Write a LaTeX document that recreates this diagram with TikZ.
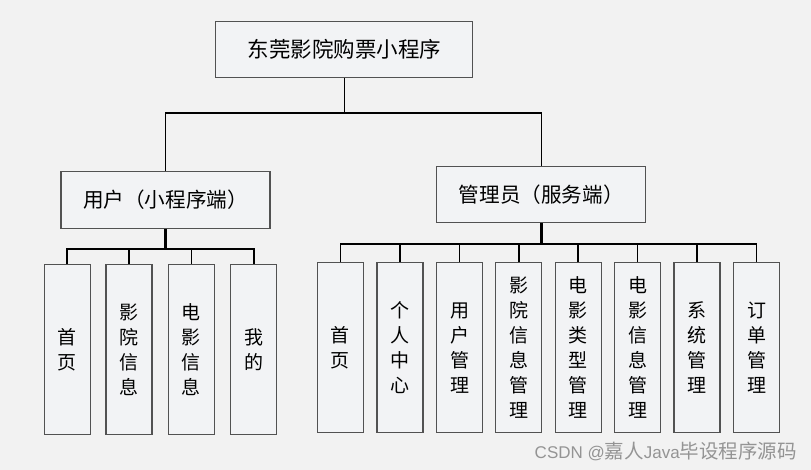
\documentclass[tikz,border=0pt]{standalone}
\usepackage{fontspec}
\setmainfont{Noto Sans CJK SC}
\newfontfamily\cjk{Noto Sans CJK SC}
\newfontfamily\latinsans{Liberation Sans}
\newcommand{\wmlatin}[1]{{\latinsans\fontsize{17}{18}\selectfont #1}}
\begin{document}
\begin{tikzpicture}[x=1pt,y=-1pt,
  boxst/.style={draw=black!68, line width=1.1pt, fill=boxfill, inner sep=0pt, align=center, text=black},
  topbox/.style={boxst, minimum width=257pt, minimum height=56pt, font=\cjk\fontsize{21.5}{24}\selectfont},
  midbox/.style={boxst, minimum width=209pt, minimum height=56.5pt, font=\cjk\fontsize{20.6}{24}\selectfont},
  leafbox/.style={boxst, minimum width=46pt, minimum height=170pt, font=\cjk\fontsize{19}{25}\selectfont},
  conn/.style={draw=black, line width=1.6pt},
  thick conn/.style={draw=black, line width=2.6pt},
  mark text/.style={font=\cjk\fontsize{19.5}{20}\selectfont, text=black!42, inner sep=0pt}]
\definecolor{bgc}{HTML}{F2F2F2}
\definecolor{boxfill}{HTML}{F2F3F5}
\fill[bgc] (0,0) rectangle (811,470);
\useasboundingbox (0,0) rectangle (811,470);

\node[topbox] (root) at (344.3,49.7) {东莞影院购票小程序};
\node[midbox] (user) at (165.5,200) {用户（小程序端）};
\node[midbox] (admin) at (541.3,194.7) {管理员（服务端）};

\coordinate (busT) at (0,113.3);
\coordinate (busL) at (0,249);
\coordinate (busR) at (0,244);

% left leaves
\node[leafbox] (u1) at (67.2,349.7) {首\\页};
\node[leafbox] (u2) at (129,349.7) {影\\院\\信\\息};
\node[leafbox] (u3) at (191.3,349.7) {电\\影\\信\\息};
\node[leafbox] (u4) at (253.8,349.7) {我\\的};

% right leaves
\node[leafbox] (a1) at (340.3,347.7) {首\\页};
\node[leafbox] (a2) at (400,347.7) {个\\人\\中\\心};
\node[leafbox] (a3) at (459.5,347.7) {用\\户\\管\\理};
\node[leafbox] (a4) at (518.8,347.7) {影\\院\\信\\息\\管\\理};
\node[leafbox] (a5) at (578.2,347.7) {电\\影\\类\\型\\管\\理};
\node[leafbox] (a6) at (637.5,347.7) {电\\影\\信\\息\\管\\理};
\node[leafbox] (a7) at (697,347.7) {系\\统\\管\\理};
\node[leafbox] (a8) at (756.5,347.7) {订\\单\\管\\理};

% top connectors
\draw[conn] (root.south) -- (root.south |- busT);
\draw[conn] (user.north) -- (user.north |- busT) -- (admin.north |- busT) -- (admin.north);

% left bus
\draw[thick conn] (user.south) -- (user.south |- busL);
\draw[conn] (u1.north) -- (u1.north |- busL) -- (u4.north |- busL) -- (u4.north);
\foreach \n in {u2,u3} \draw[conn] (\n.north) -- (\n.north |- busL);

% right bus
\draw[thick conn] (admin.south) -- (admin.south |- busR);
\draw[conn] (a1.north) -- (a1.north |- busR) -- (a8.north |- busR) -- (a8.north);
\foreach \n in {a2,a3,a4,a5,a6,a7} \draw[conn] (\n.north) -- (\n.north |- busR);

\node[mark text, anchor=east] (wm) at (797,451) {\wmlatin{CSDN @}嘉人\wmlatin{Java}毕设程序源码};
\end{tikzpicture}
\end{document}
